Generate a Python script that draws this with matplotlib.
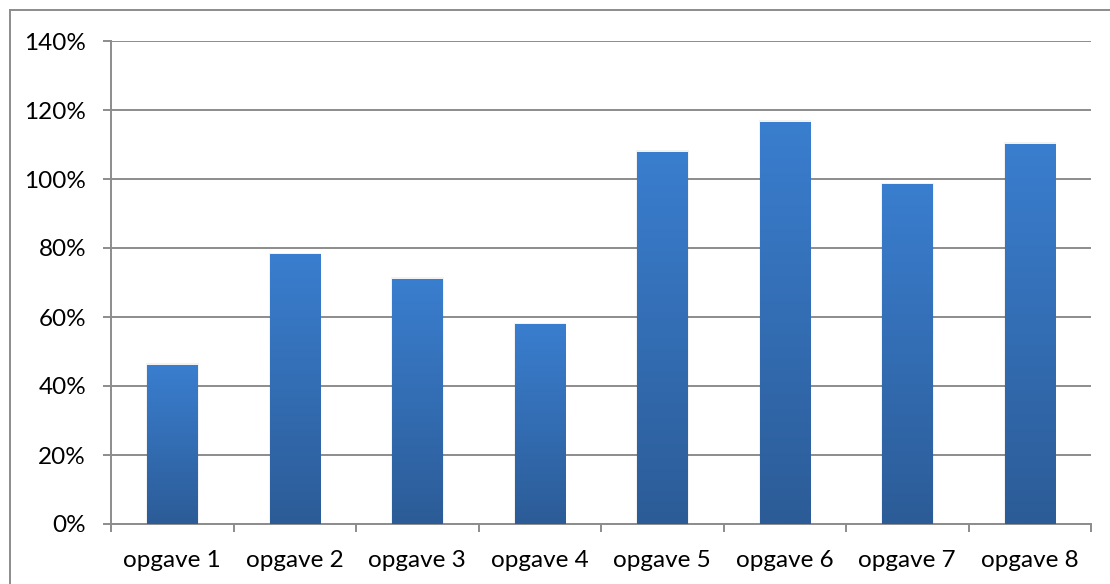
import matplotlib.pyplot as plt
import numpy as np
from matplotlib.lines import Line2D
from matplotlib.ticker import FixedLocator, PercentFormatter

plt.rcParams['font.family'] = ['Lato', 'DejaVu Sans']

categories = ['opgave 1', 'opgave 2', 'opgave 3', 'opgave 4',
              'opgave 5', 'opgave 6', 'opgave 7', 'opgave 8']
values = [46.0, 78.0, 71.0, 57.7, 107.8, 116.5, 98.3, 110.1]
yticks = [0, 20, 40, 60, 80, 100, 120, 140]

fig = plt.figure(figsize=(11.1, 5.84), dpi=100)
ax = fig.add_axes([111 / 1110, 1 - 524 / 584, 980 / 1110, 483 / 584])

x = np.arange(len(categories))
width = 0.41
bars = ax.bar(x, values, width=width, color='none', zorder=3)

# vertical gradient per bar: lighter at the top, darker at the bottom
grad = np.linspace(0, 1, 256).reshape(-1, 1)
cmap = plt.matplotlib.colors.LinearSegmentedColormap.from_list(
    'bar', ['#2C5C97', '#3A7ECF'])
for b in bars:
    x0, w, h = b.get_x(), b.get_width(), b.get_height()
    # faint drop shadow
    ax.add_patch(plt.Rectangle((x0 - 0.006, 0), w + 0.016, h + 0.6,
                               color='black', alpha=0.05, lw=0, zorder=2))
    ax.imshow(grad, extent=(x0, x0 + w, 0, h), origin='lower', cmap=cmap,
              aspect='auto', zorder=3)

ax.set_xlim(-0.5, len(categories) - 0.5)
ax.set_ylim(0, 140)
ax.set_yticks(yticks)
ax.yaxis.set_major_formatter(PercentFormatter(decimals=0))
ax.set_xticks(x)
ax.set_xticklabels(categories)
ax.xaxis.set_minor_locator(FixedLocator(np.arange(-0.5, len(categories), 1)))

grid_col = '#8C8C8C'
ax.grid(axis='y', color=grid_col, lw=1.4, zorder=1)
for s in ['top', 'right']:
    ax.spines[s].set_visible(False)
for s in ['left', 'bottom']:
    ax.spines[s].set_color(grid_col)
    ax.spines[s].set_linewidth(1.4)

ax.tick_params(axis='y', length=6, width=1.4, color=grid_col, pad=12,
               labelsize=17.5, labelcolor='black')
ax.tick_params(axis='x', which='major', length=0, pad=19, labelsize=17.5,
               labelcolor='black')
ax.tick_params(axis='x', which='minor', length=6, width=1.4, color=grid_col)

# chart area frame
fig.add_artist(Line2D([10 / 1110, 1], [1 - 10 / 584] * 2, color=grid_col,
                      lw=1.4, transform=fig.transFigure))
fig.add_artist(Line2D([10 / 1110] * 2, [0, 1 - 10 / 584], color=grid_col,
                      lw=1.4, transform=fig.transFigure))

fig.savefig('out.png', dpi=100)
